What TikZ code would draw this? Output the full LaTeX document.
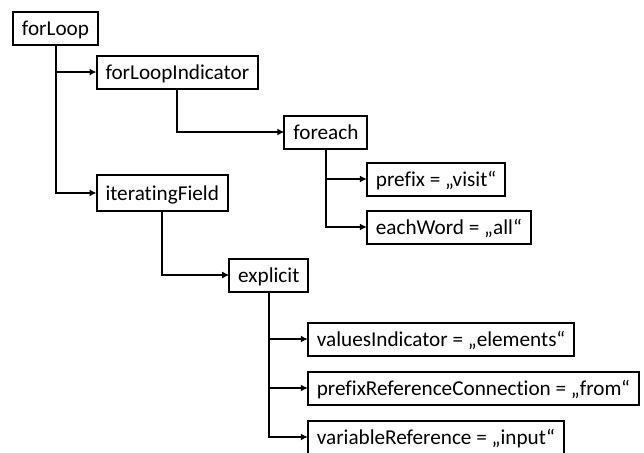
\documentclass[tikz,border=0pt]{standalone}
\usepackage{fontspec}
\setmainfont{Carlito}[Ligatures={NoCommon}]
\usetikzlibrary{arrows.meta,positioning}

\begin{document}
\begin{tikzpicture}
	[x=0.5pt, y=-0.5pt, font=\fontsize{10.6}{12}\selectfont,
	item/.style	= {draw, rectangle, line width=1pt, outer sep=0pt, inner xsep=4.5pt, inner ysep=1pt, text height=10.5pt, text depth=3.5pt, minimum height=16.5pt},
	link/.style	= {line width=1pt, -{Latex[length=3.5pt, width=3.5pt]}}]

	\useasboundingbox (0,0) rectangle (644,452);

	% tree of the loop
	\node [item, anchor=north west]	at (13,11.5)							(forLoop)			{forLoop};
	\node [item]	[below right = 5.5pt and 20.5pt of forLoop.south]		(forLoopIndicator)	{forLoopIndicator};
	\node [item]	[below right = 13.5pt and 53.5pt of forLoopIndicator.south]	(foreach)			{foreach};
	\node [item]	[below right = 7pt and 20.5pt of foreach.south]			(prefix)			{prefix = „visit“};
	\node [item]	[below right = 7.5pt and 0pt of prefix.south west]		(eachWord)			{eachWord = „all“};
	\node [item, minimum height=18pt]	[below right = 65.25pt and 20.5pt of forLoop.south]	(iteratingField)	{iteratingField};
	\node [item]	[below right = 23.75pt and 33.5pt of iteratingField.south]	(explicit)			{explicit};
	\node [item]	[below right = 15.5pt and 19.5pt of explicit.south]		(valuesIndicator)	{valuesIndicator = „elements“};
	\node [item]	[below right = 8pt and 0pt of valuesIndicator.south west]	(prefixRef)		{prefixReferenceConnection = „from“};
	\node [item]	[below right = 8pt and 0pt of prefixRef.south west]		(variableRef)		{variableReference = „input“};

	% connectors
	\draw [link] (forLoop.south)			|- (forLoopIndicator.west);
	\draw [link] (forLoop.south)			|- (iteratingField.west);
	\draw [link] (forLoopIndicator.south)	|- (foreach.west);
	\draw [link] (foreach.south)			|- (prefix.west);
	\draw [link] (foreach.south)			|- (eachWord.west);
	\draw [link] (iteratingField.south)		|- (explicit.west);
	\draw [link] (explicit.south)			|- (valuesIndicator.west);
	\draw [link] (explicit.south)			|- (prefixRef.west);
	\draw [link] (explicit.south)			|- (variableRef.west);
\end{tikzpicture}
\end{document}
